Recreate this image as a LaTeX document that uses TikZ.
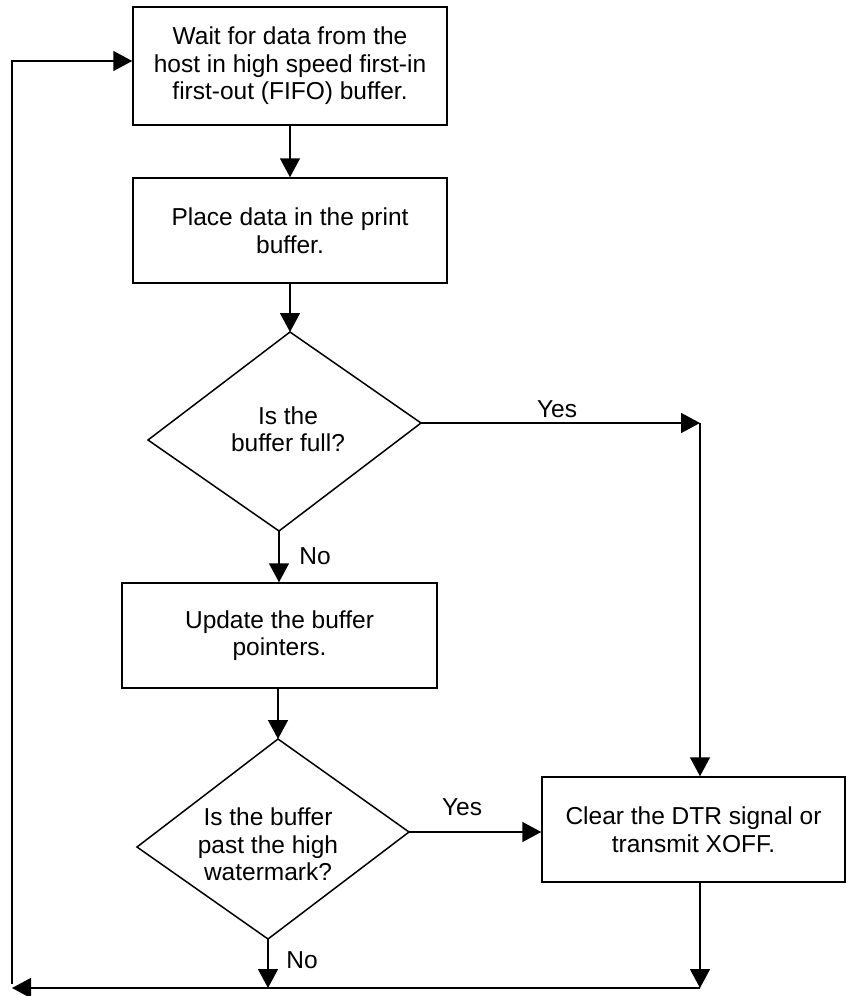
\documentclass[tikz,border=0pt]{standalone}
\usepackage{fontspec}
\setmainfont{Liberation Sans}
\usetikzlibrary{arrows.meta,positioning}
\newcommand\flowfont{\fontsize{24.5}{27.5}\selectfont}

\begin{document}
\begin{tikzpicture}[x=1pt, y=-1pt,
      stepbox/.style={draw, line width=1.5pt, align=center, font=\flowfont, inner sep=0pt},
      query/.style={align=center, font=\flowfont, inner sep=0pt},
      lbl/.style={font=\flowfont, inner sep=0pt},
      edge/.style={line width=1.5pt},
      flow/.style={edge, -{Triangle[length=19pt,width=20pt]}}
    ]
    \useasboundingbox (0,0) rectangle (846,996);
    \node[stepbox, minimum width=314pt, minimum height=118pt] (wait) at (290,66) {Wait for data from the\\host in high speed first-in\\first-out (FIFO) buffer.};
    \node[stepbox, minimum width=314pt, minimum height=105pt] (place) at (290,230.5) {Place data in the print\\buffer.};
    \node[stepbox, minimum width=315pt, minimum height=105pt] (update) at (279.5,635.5) {Update the buffer\\pointers.};
    \node[stepbox, minimum width=303pt, minimum height=105pt] (clear) at (693.5,829.5) {Clear the DTR signal or\\transmit XOFF.};

    \coordinate (fullT) at (290,332);
    \coordinate (fullR) at (421,423);
    \coordinate (fullB) at (279,531);
    \coordinate (fullL) at (148,440);
    \draw[edge] (fullT) -- (fullR) -- (fullB) -- (fullL) -- cycle;
    \node[query] (fullQ) at (288,429) {Is the\\buffer full?};

    \coordinate (markT) at (278,739);
    \coordinate (markR) at (409,832);
    \coordinate (markB) at (268,939);
    \coordinate (markL) at (137,847);
    \draw[edge] (markT) -- (markR) -- (markB) -- (markL) -- cycle;
    \node[query] (markQ) at (268,844.5) {Is the buffer\\past the high\\watermark?};

    \coordinate (yesTurn) at (700,423);
    \coordinate (backR) at (700,988);
    \coordinate (backL) at (12,988);
    \coordinate (backUp) at (12,61);

    \draw[flow] (wait) -- (place);
    \draw[flow] (place.south) -- (fullT);
    \draw[flow] (fullR) -- (yesTurn);
    \draw[flow] (yesTurn) -- (yesTurn |- clear.north);
    \draw[flow] (fullB) -- (fullB |- update.north);
    \draw[flow] (markT |- update.south) -- (markT);
    \draw[flow] (markR) -- (markR -| clear.west);
    \draw[flow] (markB) -- (markB |- backR);
    \draw[flow] (backR |- clear.south) -- (backR);
    \draw[flow] (backR) -- (backL);
    \draw[flow] ([yshift=4pt]backL) -- (backUp) -- (backUp -| wait.west);

    \node[lbl] (yesA) at (557,409) {Yes};
    \node[lbl] (noA) at (315,556) {No};
    \node[lbl] (yesB) at (462,807) {Yes};
    \node[lbl] (noB) at (302,960) {No};
  \end{tikzpicture}
\end{document}
